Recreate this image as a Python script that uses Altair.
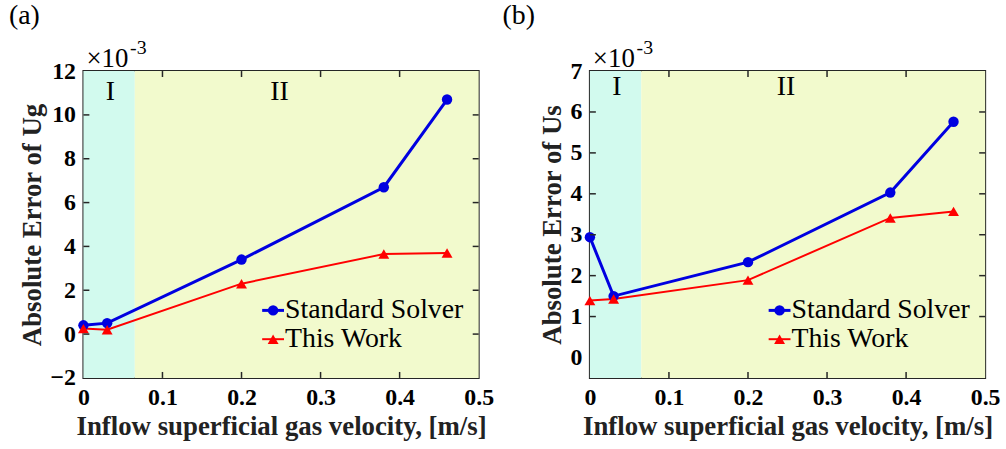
import altair as alt
import pandas as pd

# Inflow superficial gas velocity [m/s]
velocity = [0.0, 0.03, 0.2, 0.38, 0.46]

# Absolute error of Ug (x 1e-3)
ug_standard = [0.40, 0.50, 3.40, 6.70, 10.70]
ug_this_work = [0.25, 0.20, 2.30, 3.65, 3.70]

# Absolute error of Us (x 1e-3)
us_standard = [2.94, 1.50, 2.33, 4.03, 5.76]
us_this_work = [1.39, 1.43, 1.89, 3.41, 3.57]

series_names = ["Standard Solver", "This Work"]
x_ticks = [0.0, 0.1, 0.2, 0.3, 0.4, 0.5]
regime_edge = 0.065

BLUE = "#0000E0"
RED = "#FF0000"
CYAN_BG = "#D2FAEE"
YELLOW_BG = "#F2FACD"
FRAME = "#262626"
FONT = "Liberation Serif"

W, H = 398, 309
X_TITLE = "Inflow superficial gas velocity, [m/s]"


def panel(tag, tag_x, std, work, y_min, y_max, y_ticks, y_title, label_y):
    x_scale = alt.Scale(domain=[0, 0.5], nice=False, zero=False, padding=0)
    y_scale = alt.Scale(domain=[y_min, y_max], nice=False, zero=False, padding=0)
    x_axis = alt.Axis(values=x_ticks, title=X_TITLE,
                      labelExpr="datum.value == 0 ? '0' : format(datum.value, '.1f')")
    y_axis = alt.Axis(values=y_ticks, title=y_title, format="d")

    regions = pd.DataFrame({
        "x0": [0.0, regime_edge], "x1": [regime_edge, 0.5],
        "y0": [y_min, y_min], "y1": [y_max, y_max],
        "r": ["I", "II"],
    })
    bg = alt.Chart(regions).mark_rect().encode(
        x=alt.X("x0:Q", scale=x_scale, axis=x_axis),
        x2="x1:Q",
        y=alt.Y("y0:Q", scale=y_scale, axis=y_axis),
        y2="y1:Q",
        color=alt.Color("r:N", scale=alt.Scale(domain=["I", "II"], range=[CYAN_BG, YELLOW_BG]),
                        legend=None),
    )

    rlab = pd.DataFrame({"v": [0.034, 0.248], "e": [label_y, label_y], "t": ["I", "II"]})
    region_text = alt.Chart(rlab).mark_text(font=FONT, fontSize=28, color="black").encode(
        x="v:Q", y="e:Q", text="t:N")

    df = pd.DataFrame({
        "v": velocity * 2,
        "e": std + work,
        "s": [series_names[0]] * len(velocity) + [series_names[1]] * len(velocity),
    })
    std_df = df[df.s == series_names[0]]
    work_df = df[df.s == series_names[1]]

    std_line = alt.Chart(std_df).mark_line(color=BLUE, strokeWidth=3).encode(x="v:Q", y="e:Q")
    work_line = alt.Chart(work_df).mark_line(color=RED, strokeWidth=2).encode(x="v:Q", y="e:Q")
    std_pts = alt.Chart(std_df).mark_point(shape="circle", filled=True, color=BLUE, size=110,
                                           opacity=1).encode(x="v:Q", y="e:Q")
    work_pts = alt.Chart(work_df).mark_point(shape="triangle-up", filled=True, color=RED, size=120,
                                             opacity=1).encode(x="v:Q", y="e:Q")

    # inward ticks on all four sides
    xt = pd.DataFrame({"v": x_ticks[1:-1]})
    yt = pd.DataFrame({"e": y_ticks[1:-1]})
    tick_style = dict(color=FRAME, strokeWidth=1.5)
    ticks = [
        alt.Chart(xt).mark_rule(**tick_style).encode(x="v:Q", y=alt.value(H), y2=alt.value(H - 6)),
        alt.Chart(xt).mark_rule(**tick_style).encode(x="v:Q", y=alt.value(0), y2=alt.value(6)),
        alt.Chart(yt).mark_rule(**tick_style).encode(y="e:Q", x=alt.value(0), x2=alt.value(6)),
        alt.Chart(yt).mark_rule(**tick_style).encode(y="e:Q", x=alt.value(W), x2=alt.value(W - 6)),
    ]

    # in-plot legend
    leg = []
    rows = [(series_names[0], BLUE, "circle", 3, 110, 241),
            (series_names[1], RED, "triangle-up", 2, 120, 270)]
    for name, col, shp, sw, sz, yy in rows:
        one = pd.DataFrame({"t": [name]})
        leg.append(alt.Chart(one).mark_rule(color=col, strokeWidth=sw).encode(
            x=alt.value(180), x2=alt.value(202), y=alt.value(yy)))
        leg.append(alt.Chart(one).mark_point(
            shape=shp, filled=True, color=col, size=sz, opacity=1).encode(
            x=alt.value(191), y=alt.value(yy)))
        leg.append(alt.Chart(one).mark_text(
            font=FONT, fontSize=28, align="left", baseline="middle", color="black").encode(
            x=alt.value(203), y=alt.value(yy), text="t:N"))

    # panel tag and exponent annotation
    deco = [
        alt.Chart(pd.DataFrame({"t": [tag]})).mark_text(
            font=FONT, fontSize=28, align="left", baseline="middle", color="black").encode(
            x=alt.value(tag_x), y=alt.value(-55), text="t:N"),
        alt.Chart(pd.DataFrame({"t": ["\u00d710"]})).mark_text(
            font=FONT, fontSize=27, align="left", baseline="middle", color="black").encode(
            x=alt.value(3), y=alt.value(-12), text="t:N"),
        alt.Chart(pd.DataFrame({"t": ["-3"]})).mark_text(
            font=FONT, fontSize=20, align="left", baseline="middle", color="black").encode(
            x=alt.value(47), y=alt.value(-23), text="t:N"),
    ]

    return alt.layer(bg, region_text, std_line, work_line, std_pts, work_pts,
                     *ticks, *leg, *deco).properties(width=W, height=H)


left = panel("(a)", -75, ug_standard, ug_this_work, -2, 12, [-2, 0, 2, 4, 6, 8, 10, 12],
             "Absolute Error of Ug", 11.06)
right = panel("(b)", -88, us_standard, us_this_work, -0.5, 7, [0, 1, 2, 3, 4, 5, 6, 7],
              "Absolute Error of Us", 6.6)

chart = alt.hconcat(left, right, spacing=7).properties(
    padding={"left": 8, "top": 0, "right": 5, "bottom": 5},
    background="white",
).configure_view(
    stroke=FRAME, strokeWidth=2,
).configure_scale(
    continuousPadding=0,
).configure_axis(
    domain=False, ticks=False, grid=False, labelFlush=False,
    labelFont=FONT, labelFontSize=24, labelFontWeight="bold", labelColor="black",
    titleFont=FONT, titleFontSize=27, titleFontWeight="bold", titleColor="#222222",
    labelPadding=8,
).configure_axisX(titlePadding=4).configure_axisY(titlePadding=4)

chart.save("out.html", embed_options={"renderer": "svg", "actions": False})
